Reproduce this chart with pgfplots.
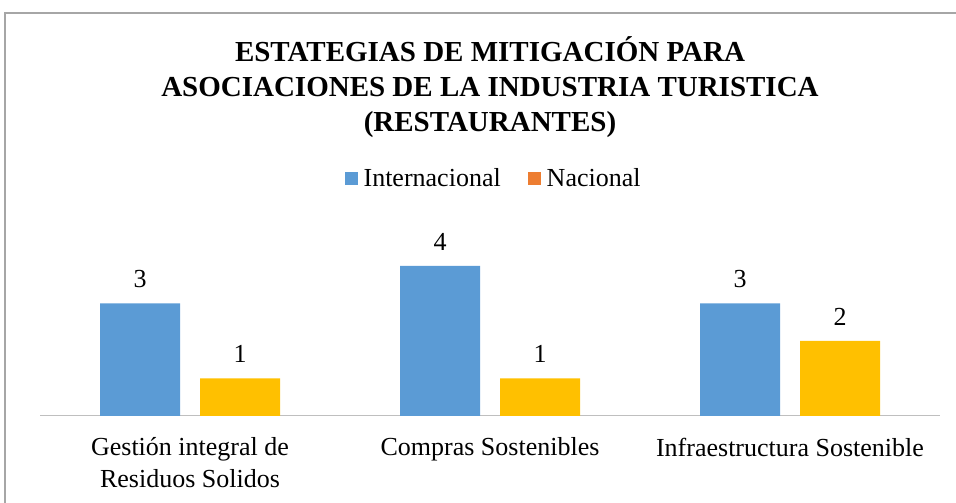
\documentclass[border=0pt]{standalone}
\usepackage{fontspec}
\setmainfont{Liberation Serif}
\usepackage{pgfplots}
\pgfplotsset{compat=1.18}
\definecolor{blueC}{HTML}{5B9BD5}
\definecolor{yellowC}{HTML}{FFC000}
\definecolor{orangeC}{HTML}{ED7D31}
\definecolor{frameC}{HTML}{A6A6A6}
\definecolor{axC}{HTML}{BFBFBF}
\begin{document}
\begin{tikzpicture}
\begin{axis}[
  at={(40bp,87bp)}, anchor=south west,
  scale only axis, width=900bp, height=187.5bp,
  xmin=-0.5, xmax=2.5, ymin=0, ymax=5,
  ybar=20bp, bar width=80bp,
  axis lines*=left,
  y axis line style={draw=none},
  x axis line style={-, draw=axC, line width=1bp},
  ytick=\empty,
  xtick={0,1,2},
  xticklabels={{Gestión integral de\\Residuos Solidos},{Compras Sostenibles},{Infraestructura Sostenible}},
  xtick style={draw=none},
  x tick label style={align=center, font=\fontsize{26bp}{32bp}\selectfont, yshift=-14bp},
  /pgf/number format/assume math mode=true,
  nodes near coords,
  every node near coord/.append style={font=\fontsize{26bp}{32bp}\selectfont, yshift=12bp},
  legend columns=2,
  legend style={at={(0.504,1.269)}, anchor=center, draw=none, fill=none,
    font=\fontsize{26bp}{32bp}\selectfont,
    /tikz/every even column/.append style={column sep=25bp}},
]
\addplot[fill=blueC, draw=none,
  legend image code/.code={\fill[blueC] (0bp,-6.5bp) rectangle (13bp,6.5bp); \path (17bp,0bp);}]
  coordinates {(0,3) (1,4) (2,3)};
\addlegendentry{Internacional}
\addplot[fill=yellowC, draw=none,
  legend image code/.code={\fill[orangeC] (0bp,-6.5bp) rectangle (13bp,6.5bp); \path (17bp,0bp);}]
  coordinates {(0,1) (1,1) (2,2)};
\addlegendentry{Nacional}
\end{axis}
\node[align=center, font=\fontsize{29bp}{35bp}\selectfont\bfseries] at (490bp,416bp)
  {ESTATEGIAS DE MITIGACIÓN PARA\\ASOCIACIONES DE LA INDUSTRIA TURISTICA\\(RESTAURANTES)};
\draw[frameC, line width=1.2bp] (5bp,0bp) -- (5bp,490bp) -- (960bp,490bp);
\pgfresetboundingbox
\useasboundingbox (0,0) rectangle (956bp,503bp);
\end{tikzpicture}
\end{document}
